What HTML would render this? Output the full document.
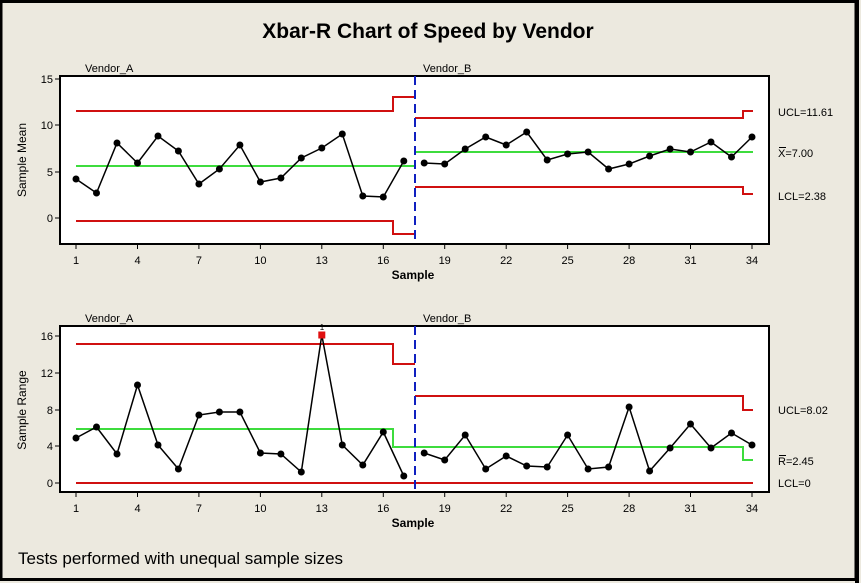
<!DOCTYPE html>
<html><head><meta charset="utf-8"><style>
html,body{margin:0;padding:0;background:#ece9df;}
svg{display:block;font-family:"Liberation Sans",sans-serif;}
</style></head><body>
<svg width="861" height="583" viewBox="0 0 861 583" xmlns="http://www.w3.org/2000/svg">
<rect x="0" y="0" width="861" height="583" fill="#ece9df"/>
<rect x="1" y="1.5" width="855" height="578" fill="none" stroke="#000" stroke-width="3"/>
<rect x="855" y="0" width="4" height="583" fill="#000"/>
<text x="428" y="38" text-anchor="middle" font-size="21" font-weight="bold">Xbar-R Chart of Speed by Vendor</text>

<!-- TOP CHART -->
<g font-size="11">
<text x="85" y="72">Vendor_A</text><text x="423" y="72">Vendor_B</text>
<rect x="60" y="76" width="709" height="168" fill="#fff" stroke="#000" stroke-width="2"/>
<g stroke="#000" stroke-width="1">
<line x1="55" y1="79" x2="60" y2="79"/><line x1="55" y1="125" x2="60" y2="125"/><line x1="55" y1="172" x2="60" y2="172"/><line x1="55" y1="218" x2="60" y2="218"/>
<line x1="76" y1="244" x2="76" y2="249"/><line x1="137.5" y1="244" x2="137.5" y2="249"/><line x1="198.9" y1="244" x2="198.9" y2="249"/><line x1="260.4" y1="244" x2="260.4" y2="249"/><line x1="321.8" y1="244" x2="321.8" y2="249"/><line x1="383.3" y1="244" x2="383.3" y2="249"/><line x1="444.7" y1="244" x2="444.7" y2="249"/><line x1="506.2" y1="244" x2="506.2" y2="249"/><line x1="567.6" y1="244" x2="567.6" y2="249"/><line x1="629.1" y1="244" x2="629.1" y2="249"/><line x1="690.5" y1="244" x2="690.5" y2="249"/><line x1="752" y1="244" x2="752" y2="249"/>
</g>
<g text-anchor="end"><text x="53" y="83">15</text><text x="53" y="129">10</text><text x="53" y="176">5</text><text x="53" y="222">0</text></g>
<g text-anchor="middle"><text x="76" y="264">1</text><text x="137.5" y="264">4</text><text x="198.9" y="264">7</text><text x="260.4" y="264">10</text><text x="321.8" y="264">13</text><text x="383.3" y="264">16</text><text x="444.7" y="264">19</text><text x="506.2" y="264">22</text><text x="567.6" y="264">25</text><text x="629.1" y="264">28</text><text x="690.5" y="264">31</text><text x="752" y="264">34</text></g>
<text x="413" y="279" text-anchor="middle" font-weight="bold" font-size="12">Sample</text>
<text transform="translate(26,160) rotate(-90)" text-anchor="middle" font-size="12">Sample Mean</text>
<polyline fill="none" stroke="#d01010" stroke-width="2" points="76,111 393,111 393,97 415,97"/>
<polyline fill="none" stroke="#d01010" stroke-width="2" points="76,221 393,221 393,234 415,234"/>
<polyline fill="none" stroke="#d01010" stroke-width="2" points="415,118 743,118 743,111 753,111"/>
<polyline fill="none" stroke="#d01010" stroke-width="2" points="415,187 743,187 743,194 753,194"/>
<line x1="76" y1="166" x2="415" y2="166" stroke="#3ddc3d" stroke-width="2"/>
<line x1="415" y1="152" x2="753" y2="152" stroke="#3ddc3d" stroke-width="2"/>
<line x1="415" y1="76" x2="415" y2="244" stroke="#1020c0" stroke-width="2" stroke-dasharray="9,5"/>
<polyline fill="none" stroke="#000" stroke-width="1.5" points="76,179 96.5,193 117,143 137.5,163 158,136 178.4,151 198.9,184 219.4,169 239.9,145 260.4,182 280.9,178 301.3,158 321.8,148 342.3,134 362.8,196 383.3,197 403.8,161"/>
<polyline fill="none" stroke="#000" stroke-width="1.5" points="424.2,163 444.7,164 465.2,149 485.7,137 506.2,145 526.7,132 547.2,160 567.6,154 588.1,152 608.6,169 629.1,164 649.6,156 670.1,149 690.5,152 711,142 731.5,157 752,137"/>
<g fill="#000">
<circle cx="76" cy="179" r="3.5"/><circle cx="96.5" cy="193" r="3.5"/><circle cx="117" cy="143" r="3.5"/><circle cx="137.5" cy="163" r="3.5"/><circle cx="158" cy="136" r="3.5"/><circle cx="178.4" cy="151" r="3.5"/><circle cx="198.9" cy="184" r="3.5"/><circle cx="219.4" cy="169" r="3.5"/><circle cx="239.9" cy="145" r="3.5"/><circle cx="260.4" cy="182" r="3.5"/><circle cx="280.9" cy="178" r="3.5"/><circle cx="301.3" cy="158" r="3.5"/><circle cx="321.8" cy="148" r="3.5"/><circle cx="342.3" cy="134" r="3.5"/><circle cx="362.8" cy="196" r="3.5"/><circle cx="383.3" cy="197" r="3.5"/><circle cx="403.8" cy="161" r="3.5"/>
<circle cx="424.2" cy="163" r="3.5"/><circle cx="444.7" cy="164" r="3.5"/><circle cx="465.2" cy="149" r="3.5"/><circle cx="485.7" cy="137" r="3.5"/><circle cx="506.2" cy="145" r="3.5"/><circle cx="526.7" cy="132" r="3.5"/><circle cx="547.2" cy="160" r="3.5"/><circle cx="567.6" cy="154" r="3.5"/><circle cx="588.1" cy="152" r="3.5"/><circle cx="608.6" cy="169" r="3.5"/><circle cx="629.1" cy="164" r="3.5"/><circle cx="649.6" cy="156" r="3.5"/><circle cx="670.1" cy="149" r="3.5"/><circle cx="690.5" cy="152" r="3.5"/><circle cx="711" cy="142" r="3.5"/><circle cx="731.5" cy="157" r="3.5"/><circle cx="752" cy="137" r="3.5"/>
</g>
<text x="778" y="116">UCL=11.61</text>
<text x="778" y="157">X=7.00</text><line x1="779" y1="147.5" x2="786" y2="147.5" stroke="#000" stroke-width="1"/>
<text x="778" y="200">LCL=2.38</text>
</g>

<!-- BOTTOM CHART -->
<g font-size="11">
<text x="85" y="322">Vendor_A</text><text x="423" y="322">Vendor_B</text>
<rect x="60" y="326" width="709" height="166" fill="#fff" stroke="#000" stroke-width="2"/>
<g stroke="#000" stroke-width="1">
<line x1="55" y1="336" x2="60" y2="336"/><line x1="55" y1="373" x2="60" y2="373"/><line x1="55" y1="410" x2="60" y2="410"/><line x1="55" y1="446" x2="60" y2="446"/><line x1="55" y1="483" x2="60" y2="483"/>
<line x1="76" y1="492" x2="76" y2="497"/><line x1="137.5" y1="492" x2="137.5" y2="497"/><line x1="198.9" y1="492" x2="198.9" y2="497"/><line x1="260.4" y1="492" x2="260.4" y2="497"/><line x1="321.8" y1="492" x2="321.8" y2="497"/><line x1="383.3" y1="492" x2="383.3" y2="497"/><line x1="444.7" y1="492" x2="444.7" y2="497"/><line x1="506.2" y1="492" x2="506.2" y2="497"/><line x1="567.6" y1="492" x2="567.6" y2="497"/><line x1="629.1" y1="492" x2="629.1" y2="497"/><line x1="690.5" y1="492" x2="690.5" y2="497"/><line x1="752" y1="492" x2="752" y2="497"/>
</g>
<g text-anchor="end"><text x="53" y="340">16</text><text x="53" y="377">12</text><text x="53" y="414">8</text><text x="53" y="450">4</text><text x="53" y="487">0</text></g>
<g text-anchor="middle"><text x="76" y="512">1</text><text x="137.5" y="512">4</text><text x="198.9" y="512">7</text><text x="260.4" y="512">10</text><text x="321.8" y="512">13</text><text x="383.3" y="512">16</text><text x="444.7" y="512">19</text><text x="506.2" y="512">22</text><text x="567.6" y="512">25</text><text x="629.1" y="512">28</text><text x="690.5" y="512">31</text><text x="752" y="512">34</text></g>
<text x="413" y="527" text-anchor="middle" font-weight="bold" font-size="12">Sample</text>
<text transform="translate(26,410) rotate(-90)" text-anchor="middle" font-size="12">Sample Range</text>
<text x="322" y="330" text-anchor="middle" font-size="8">1</text>
<polyline fill="none" stroke="#d01010" stroke-width="2" points="76,344 393,344 393,364 415,364"/>
<polyline fill="none" stroke="#d01010" stroke-width="2" points="415,396 743,396 743,410 753,410"/>
<line x1="76" y1="483" x2="753" y2="483" stroke="#d01010" stroke-width="2"/>
<polyline fill="none" stroke="#3ddc3d" stroke-width="2" points="76,429 393,429 393,447 743,447 743,460 753,460"/>
<line x1="415" y1="326" x2="415" y2="492" stroke="#1020c0" stroke-width="2" stroke-dasharray="9,5"/>
<polyline fill="none" stroke="#000" stroke-width="1.5" points="76,438 96.5,427 117,454 137.5,385 158,445 178.4,469 198.9,415 219.4,412 239.9,412 260.4,453 280.9,454 301.3,472 321.8,335 342.3,445 362.8,465 383.3,432 403.8,476"/>
<polyline fill="none" stroke="#000" stroke-width="1.5" points="424.2,453 444.7,460 465.2,435 485.7,469 506.2,456 526.7,466 547.2,467 567.6,435 588.1,469 608.6,467 629.1,407 649.6,471 670.1,448 690.5,424 711,448 731.5,433 752,445"/>
<g fill="#000">
<circle cx="76" cy="438" r="3.5"/><circle cx="96.5" cy="427" r="3.5"/><circle cx="117" cy="454" r="3.5"/><circle cx="137.5" cy="385" r="3.5"/><circle cx="158" cy="445" r="3.5"/><circle cx="178.4" cy="469" r="3.5"/><circle cx="198.9" cy="415" r="3.5"/><circle cx="219.4" cy="412" r="3.5"/><circle cx="239.9" cy="412" r="3.5"/><circle cx="260.4" cy="453" r="3.5"/><circle cx="280.9" cy="454" r="3.5"/><circle cx="301.3" cy="472" r="3.5"/><circle cx="342.3" cy="445" r="3.5"/><circle cx="362.8" cy="465" r="3.5"/><circle cx="383.3" cy="432" r="3.5"/><circle cx="403.8" cy="476" r="3.5"/>
<circle cx="424.2" cy="453" r="3.5"/><circle cx="444.7" cy="460" r="3.5"/><circle cx="465.2" cy="435" r="3.5"/><circle cx="485.7" cy="469" r="3.5"/><circle cx="506.2" cy="456" r="3.5"/><circle cx="526.7" cy="466" r="3.5"/><circle cx="547.2" cy="467" r="3.5"/><circle cx="567.6" cy="435" r="3.5"/><circle cx="588.1" cy="469" r="3.5"/><circle cx="608.6" cy="467" r="3.5"/><circle cx="629.1" cy="407" r="3.5"/><circle cx="649.6" cy="471" r="3.5"/><circle cx="670.1" cy="448" r="3.5"/><circle cx="690.5" cy="424" r="3.5"/><circle cx="711" cy="448" r="3.5"/><circle cx="731.5" cy="433" r="3.5"/><circle cx="752" cy="445" r="3.5"/>
</g>
<rect x="318.3" y="331.5" width="7" height="7" fill="#e01010"/>
<text x="778" y="414">UCL=8.02</text>
<text x="778" y="465">R=2.45</text><line x1="779" y1="455.5" x2="786" y2="455.5" stroke="#000" stroke-width="1"/>
<text x="778" y="487">LCL=0</text>
</g>

<text x="18" y="564" font-size="17">Tests performed with unequal sample sizes</text>
</svg>
</body></html>
